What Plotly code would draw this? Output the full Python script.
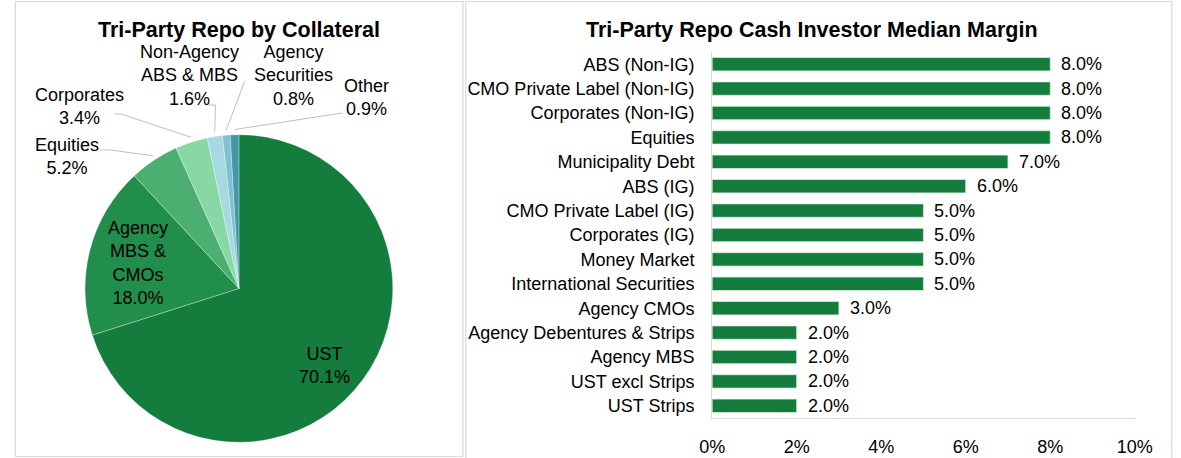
import math
import plotly.graph_objects as go

# ---------------- data ----------------
pie_names = ["UST", "Agency MBS & CMOs", "Equities", "Corporates",
             "Non-Agency ABS & MBS", "Agency Securities", "Other"]
pie_display = ["UST", "Agency<br>MBS &<br>CMOs", "Equities", "Corporates",
               "Non-Agency<br>ABS & MBS", "Agency<br>Securities", "Other"]
pie_values = [70.1, 18.0, 5.2, 3.4, 1.6, 0.8, 0.9]
pie_colors = ["#147C3C", "#218E4B", "#4CAF72", "#88D8A5", "#A7D9E3", "#7FC1D1", "#4198A9"]

bar_categories = ["ABS (Non-IG)", "CMO Private Label (Non-IG)", "Corporates (Non-IG)",
                  "Equities", "Municipality Debt", "ABS (IG)", "CMO Private Label (IG)",
                  "Corporates (IG)", "Money Market", "International Securities",
                  "Agency CMOs", "Agency Debentures & Strips", "Agency MBS",
                  "UST excl Strips", "UST Strips"]
bar_values = [8.0, 8.0, 8.0, 8.0, 7.0, 6.0, 5.0, 5.0, 5.0, 5.0, 3.0, 2.0, 2.0, 2.0, 2.0]
x_ticks = [0, 2, 4, 6, 8, 10]

# ---------------- layout helpers ----------------
W, H = 1181, 458
FONT = "Liberation Sans, Arial, sans-serif"
FS = 18
TS = 21.5


def px(x):
    return x / W


def py(y):
    return 1 - y / H


CX, CY, R = 232, 288.5, 158

fig = go.Figure()

fig.add_trace(go.Pie(
    labels=pie_names, values=pie_values, sort=False, direction="clockwise",
    rotation=0, marker=dict(colors=pie_colors, line=dict(width=0.6, color="rgba(255,255,255,0.5)")),
    textinfo="none", hoverinfo="label+percent", showlegend=False,
    domain=dict(x=[px(CX - R), px(CX + R)], y=[py(CY + R), py(CY - R)]),
))

fig.add_trace(go.Bar(
    x=bar_values, y=bar_categories, orientation="h",
    marker=dict(color="#147C3C", line=dict(width=0.8, color="#d8eedd")),
    width=0.55, showlegend=False, xaxis="x", yaxis="y",
))

annotations = []
shapes = []

# panel borders
shapes.append(dict(type="rect", xref="paper", yref="paper",
                   x0=px(2.5), y0=py(456.5), x1=px(462), y1=py(1.5),
                   line=dict(color="#D9D9D9", width=1.2)))
shapes.append(dict(type="rect", xref="paper", yref="paper",
                   x0=px(465), y0=py(470), x1=px(1190), y1=py(1.5),
                   line=dict(color="#D9D9D9", width=1.2)))


def note(text, x, y, size=FS, **kw):
    d = dict(text=text, x=px(x), y=py(y), xref="paper", yref="paper", showarrow=False,
             xanchor="center", yanchor="middle", align="center",
             font=dict(size=size, family=FONT, color="#000"))
    d.update(kw)
    return d


# titles
annotations.append(note("<b>Tri-Party Repo by Collateral</b>", 232, 30, size=TS))
annotations.append(note("<b>Tri-Party Repo Cash Investor Median Margin</b>", 821, 30, size=TS))

# pie labels
total = sum(pie_values)
cum = 0
mids = []
for v in pie_values:
    mids.append((cum + v / 2) / total * 2 * math.pi)
    cum += v

label_pos = {  # label centre (px) and leader-line start points
    0: dict(c=(320, 365), line=None),
    1: dict(c=(128, 263), line=None),
    2: dict(c=(55, 156), line=[(90, 150), (100, 150)]),
    3: dict(c=(68, 106), line=[(104, 114), (111, 114)]),
    4: dict(c=(181, 75), line=[(201, 105), (208, 105)]),
    5: dict(c=(288, 75), line=[(238, 81)]),
    6: dict(c=(363, 97), line=[(338, 113)]),
}
for i, (disp, v) in enumerate(zip(pie_display, pie_values)):
    info = label_pos[i]
    annotations.append(note(f"{disp}<br>{v:.1f}%", info["c"][0], info["c"][1]))
    if info["line"]:
        ex = CX + (R + 1) * math.sin(mids[i])
        ey = CY - (R + 1) * math.cos(mids[i])
        pts = info["line"] + [(ex, ey)]
        path = "M " + " L ".join(f"{px(a):.5f},{py(b):.5f}" for a, b in pts)
        shapes.append(dict(type="path", xref="paper", yref="paper", path=path,
                           line=dict(color="#BFBFBF", width=1)))

# bar value labels
for c, v in zip(bar_categories, bar_values):
    annotations.append(dict(text=f"{v:.1f}%", x=v, y=c, xref="x", yref="y",
                            xanchor="left", yanchor="middle", showarrow=False, xshift=9,
                            font=dict(size=FS, family=FONT, color="#000")))

fig.update_layout(
    width=W, height=H, margin=dict(l=0, r=0, t=0, b=0),
    paper_bgcolor="white", plot_bgcolor="white",
    font=dict(family=FONT, size=FS, color="#000"),
    xaxis=dict(domain=[px(718), px(1152)], range=[0, 10], tickvals=x_ticks,
               ticktext=[f"{t}%" for t in x_ticks], showgrid=False, zeroline=False,
               showline=True, linecolor="#D9D9D9", linewidth=1.2, ticks="",
               ticklabelstandoff=12, tickfont=dict(size=FS, family=FONT, color="#000"),
               fixedrange=True),
    yaxis=dict(domain=[py(418), py(52)], autorange="reversed", showgrid=False,
               zeroline=False, showline=True, linecolor="#D9D9D9", linewidth=1.2,
               ticks="", ticklabelstandoff=13,
               tickfont=dict(size=FS, family=FONT, color="#000"), fixedrange=True),
    annotations=annotations, shapes=shapes, bargap=0.45,
)

fig.write_html("out.html", config={"displayModeBar": False},
               post_script=("document.documentElement.style.overflow='hidden';"
                            "document.body.style.overflow='hidden';"
                            "document.body.style.margin='0';document.body.style.padding='0';"))
